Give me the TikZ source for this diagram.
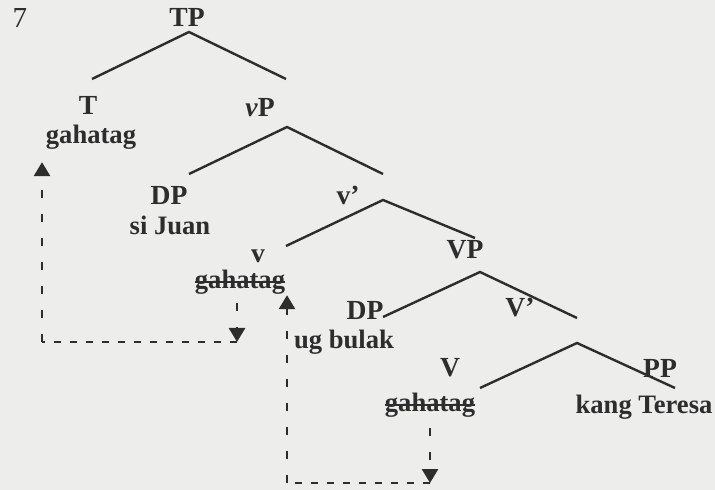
\documentclass[tikz,border=0pt]{standalone}
\usepackage{fontspec}
\setmainfont{Liberation Serif}
\usetikzlibrary{arrows.meta,positioning}
\definecolor{paper}{RGB}{237,237,235}
\definecolor{ink}{RGB}{45,45,45}

\begin{document}
\begin{tikzpicture}[x=0.5pt,y=-0.5pt,ink,line width=1pt,
    cat/.style={font=\fontsize{13.8}{16}\selectfont\bfseries,inner sep=0pt,text=ink},
    word/.style={font=\fontsize{13.3}{16}\selectfont\bfseries,inner sep=0pt,text=ink},
    struck/.style={word,path picture={\draw[ink,line width=0.9pt]
        (path picture bounding box.west) -- (path picture bounding box.east);}},
    branch/.style={draw=ink,line width=1.2pt},
    vmove/.style={draw=ink,line width=1.3pt,dash pattern=on 4pt off 8pt},
    hmove/.style={draw=ink,line width=1.2pt,dash pattern=on 3.5pt off 4.5pt},
    tip/.style={-{Triangle[width=8pt,length=7pt]}}]

                \fill[paper] (0,0) rectangle (715,490);
                \useasboundingbox (0,0) rectangle (715,490);

                \node[font=\fontsize{14.5}{16}\selectfont,inner sep=0pt]  (num) at (20,18) {7};

                % categories
                \node[cat]  (TP)   at (187,17)  {TP};
                \node[cat]  (T)    at (88,105)  {T};
                \node[cat]  (vP)   at (260,108) {\textit{v}P};
                \node[cat]  (DP1)  at (169,195) {DP};
                \node[cat]  (vbar) at (348,195) {v’};
                \node[cat]  (v)    at (258,256) {v};
                \node[cat]  (VP)   at (465,250) {VP};
                \node[cat]  (DP2)  at (365,310) {DP};
                \node[cat]  (Vbar) at (520,308) {V’};
                \node[cat]  (V)    at (450,368) {V};
                \node[cat]  (PP)   at (660,368) {PP};

                % words
                \node[word]   (gT)   at (91,137)  {gahatag};
                \node[word]   (sJ)   at (170,225) {si Juan};
                \node[struck] (gv)   at (240,282) {gahatag};
                \node[word]   (ub)   at (344,342) {ug bulak};
                \node[struck] (gV)   at (430,405) {gahatag};
                \node[word]   (kT)   at (644,407) {kang Teresa};

                % branch points
                \coordinate (tpa) at (189,32);
                \coordinate (tpl) at (92,79);
                \coordinate (tpr) at (286,79);
                \coordinate (vpa) at (287,127);
                \coordinate (vpl) at (189,174);
                \coordinate (vpr) at (383,174);
                \coordinate (vba) at (383,200);
                \coordinate (vbl) at (286,246);
                \coordinate (vbr) at (475,238);
                \coordinate (VPa) at (480,272);
                \coordinate (VPl) at (383,317);
                \coordinate (VPr) at (577,318);
                \coordinate (Vba) at (577,343);
                \coordinate (Vbl) at (480,388);
                \coordinate (Vbr) at (675,388);

                \path[branch]
                (tpl) -- (tpa) -- (tpr)
                (vpl) -- (vpa) -- (vpr)
                (vbl) -- (vba) -- (vbr)
                (VPl) -- (VPa) -- (VPr)
                (Vbl) -- (Vba) -- (Vbr)
            ;

                % movement
                \coordinate (c1) at (42,342);
                \coordinate (c2) at (237,342);
                \coordinate (c3) at (430,483);
                \coordinate (c4) at (287,483);

                \draw[vmove,tip,shorten <=4pt] (gv.south -| c2) -- (c2);
                \draw[hmove] (c2) -- (c1);
                \draw[vmove,tip,shorten >=6pt] (c1) -- (c1 |- gT.south);
                \draw[vmove,tip,shorten <=5pt] (gV.south -| c3) -- (c3);
                \draw[hmove] (c3) -- (c4);
                \draw[vmove,tip] (c4) -- (c4 |- gv.south);
            \end{tikzpicture}
\end{document}
